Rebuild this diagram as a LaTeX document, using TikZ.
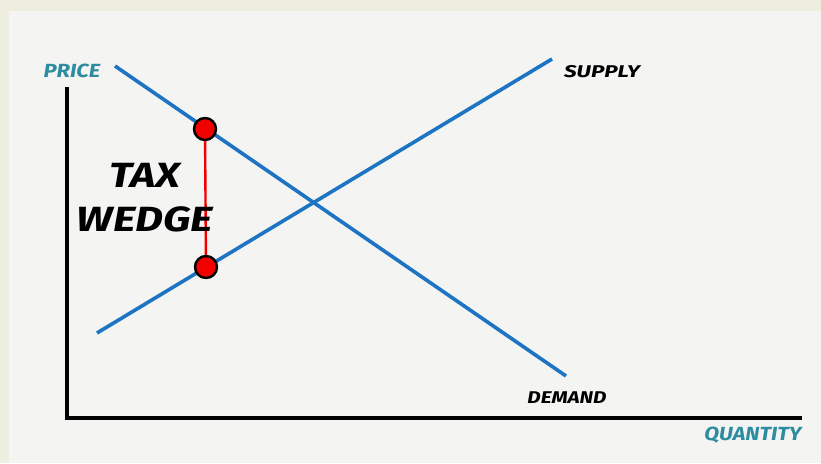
\documentclass[tikz,border=0pt]{standalone}
\usepackage{fontspec}
\setmainfont{Fira Sans}[UprightFont=* Bold Italic]
\definecolor{outerbg}{HTML}{EDEDE0}
\definecolor{paper}{HTML}{F4F4F3}
\definecolor{curve}{HTML}{1C74C2}
\definecolor{axislab}{HTML}{2E8CA0}
\definecolor{dotred}{HTML}{F20000}
\tikzset{
  curveline/.style={draw=curve, line width=3.6pt},
  axisline/.style={draw=black, line width=3.2pt},
  axislabel/.style={text=axislab, font=\fontsize{19}{21}\selectfont, inner sep=0pt},
  curvelabel/.style={text=black, font=\fontsize{17}{19}\selectfont, inner sep=0pt},
  bigtext/.style={text=black, font=\fontsize{35}{44}\selectfont, inner sep=0pt, align=center},
  dot/.style={circle, fill=dotred, draw=black, line width=2.4pt, minimum size=22pt, inner sep=0pt},
}
\begin{document}
\begin{tikzpicture}[x=1pt,y=-1pt]
\useasboundingbox (0,0) rectangle (821,463);
\fill[outerbg] (0,0) rectangle (821,463);
\fill[paper] (9,11) rectangle (821,463);
% axes
\coordinate (o) at (67,418);
\coordinate (ytop) at (67,89);
\coordinate (xend) at (800,418);
\draw[axisline, line cap=rect] (ytop) -- (o) -- (xend);
% curves
\coordinate (d1) at (115,66);
\coordinate (d2) at (566,376);
\coordinate (s1) at (97,333);
\coordinate (s2) at (552,59);
\draw[curveline] (d1) -- (d2);
\draw[curveline] (s1) -- (s2);
% wedge
\node[dot] (top) at (205,129) {};
\node[dot] (bot) at (206,267) {};
\draw[dotred, line width=2.4pt] (top) -- (bot);
% labels
\node[axislabel] (price) at (72,71) {\scalebox{1.16}[1]{PRICE}};
\node[axislabel] (qty) at (753,435) {\scalebox{1.14}[1]{QUANTITY}};
\node[curvelabel] (sup) at (602,72) {\scalebox{1.32}[1]{SUPPLY}};
\node[curvelabel] (dem) at (567,398) {\scalebox{1.22}[1]{DEMAND}};
\node[bigtext] (tax) at (145,198) {\scalebox{1.24}[1]{TAX}\\\scalebox{1.24}[1]{WEDGE}};
\end{tikzpicture}
\end{document}
